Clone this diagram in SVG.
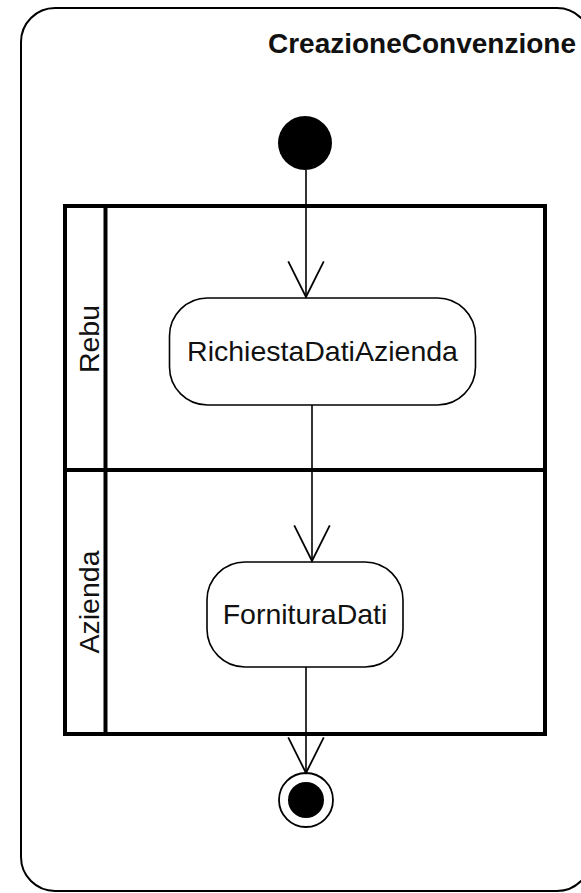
<svg xmlns="http://www.w3.org/2000/svg" width="581" height="893" viewBox="0 0 581 893">
<style>
.frame{fill:#fff;stroke:#000;stroke-width:2}
.lane{fill:none;stroke:#000;stroke-width:4}
.action{fill:#fff;stroke:#000;stroke-width:1.6}
.edge{fill:none;stroke:#000;stroke-width:1.6}
.lbl{font-family:"Liberation Sans",Arial,sans-serif;font-size:28.5px;fill:#111}
.title{font-family:"Liberation Sans",Arial,sans-serif;font-size:28px;font-weight:bold;fill:#111}
</style>
<defs>
<marker id="vee" markerUnits="userSpaceOnUse" markerWidth="40" markerHeight="40" viewBox="-34 -18 36 36" refX="0" refY="0" orient="auto">
<path d="M-32,-16 L0,0 L-32,16" fill="none" stroke="#000" stroke-width="1.6"/>
</marker>
</defs>
<rect width="581" height="893" fill="#fff"/>
<g id="frame">
<rect class="frame" x="21" y="8" width="570" height="883" rx="34" ry="34"/>
<text class="title" x="576" y="53" text-anchor="end">CreazioneConvenzione</text>
</g>
<g id="swimlanes">
<rect class="lane" x="65" y="206" width="480" height="528"/>
<line class="lane" x1="105.5" y1="206" x2="105.5" y2="734"/>
<line class="lane" x1="65" y1="470" x2="545" y2="470"/>
</g>
<g id="lane-rebu">
<text class="lbl" transform="translate(99,339) rotate(-90)" text-anchor="middle">Rebu</text>
</g>
<g id="lane-azienda">
<text class="lbl" transform="translate(99,602) rotate(-90)" text-anchor="middle">Azienda</text>
</g>
<g id="initial">
<circle cx="305" cy="143" r="27" fill="#000"/>
</g>
<g id="richiesta">
<rect class="action" x="169.5" y="298" width="306" height="107" rx="38" ry="38"/>
<text class="lbl" x="322.5" y="361" text-anchor="middle">RichiestaDatiAzienda</text>
</g>
<g id="fornitura">
<rect class="action" x="207" y="562" width="196" height="105" rx="38" ry="38"/>
<text class="lbl" x="305" y="624" text-anchor="middle">FornituraDati</text>
</g>
<g id="final">
<circle cx="306" cy="800" r="27" fill="#fff" stroke="#000" stroke-width="1.8"/>
<circle cx="306" cy="800" r="18" fill="#000"/>
</g>
<g id="connectors">
<line class="edge" x1="306" y1="170" x2="306" y2="297" marker-end="url(#vee)"/>
<line class="edge" x1="312" y1="405" x2="312" y2="561" marker-end="url(#vee)"/>
<line class="edge" x1="306" y1="667" x2="306" y2="773" marker-end="url(#vee)"/>
</g>
</svg>
